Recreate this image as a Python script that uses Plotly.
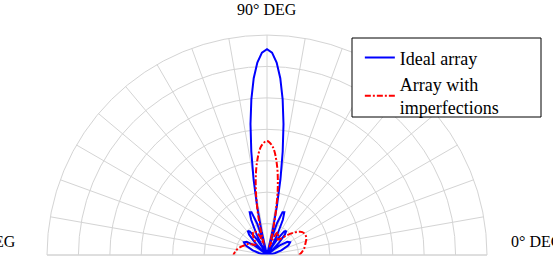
import plotly.graph_objects as go

# Ideal array pattern (angle in degrees, magnitude)
ideal_theta = [0, 8.11, 12.84, 18.19, 24.49, 28.96, 32.86, 36.87, 39.20, 41.41,
               43.53, 45.57, 48.70, 51.32, 53.84, 56.63, 58.33, 60.0,
               61.64, 63.26, 65.80, 67.98, 70.12, 72.54, 74.04, 75.52,
               77.00, 78.46, 79.92, 81.37, 82.82, 84.26, 85.70, 87.13, 88.57, 90.0]
ideal_r = [0, 0.10, 0.25, 0.48, 0.75, 0.84, 0.77, 0.51, 0.27, 0,
           0.28, 0.54, 0.86, 0.98, 0.93, 0.63, 0.34, 0,
           0.37, 0.74, 1.23, 1.47, 1.45, 1.06, 0.60, 0,
           0.74, 1.56, 2.44, 3.33, 4.20, 4.98, 5.64, 6.13, 6.44, 6.55]
# mirror half (pattern is symmetric about 90 deg)
ideal_theta_full = ideal_theta + [180 - t for t in reversed(ideal_theta[:-1])]
ideal_r_full = ideal_r + list(reversed(ideal_r[:-1]))

# Array with imperfections
imp_theta = [0, 4, 10, 17, 23, 28, 33, 37, 41, 45, 50, 55, 60, 64, 67, 70, 72.5,
             74.5, 76.5, 78.5, 81, 84, 87, 90, 93, 96, 99, 102, 104.5, 106.5,
             108.5, 111, 115, 120, 125, 130, 135, 140, 145, 150, 156, 162, 168, 174, 180]
imp_r = [1.02, 1.10, 1.20, 1.28, 1.36, 1.38, 1.34, 1.22, 1.06, 0.88, 0.68, 0.60, 0.70,
         0.80, 0.74, 0.52, 0.28, 0.35, 0.80, 1.40, 2.20, 2.95, 3.45, 3.63, 3.47, 3.00,
         2.30, 1.45, 0.75, 0.35, 0.45, 0.65, 0.80, 0.86, 0.78, 0.62, 0.50, 0.50, 0.60,
         0.70, 0.77, 0.86, 0.95, 1.02, 1.07]

names = ["Ideal array", "Array with<br>imperfections"]

fig = go.Figure()
fig.add_trace(go.Scatterpolar(theta=ideal_theta_full, r=ideal_r_full, mode="lines",
                              name=names[0], line=dict(color="#0000ff", width=2)))
fig.add_trace(go.Scatterpolar(theta=imp_theta, r=imp_r, mode="lines", name=names[1],
                              line=dict(color="#ff0000", width=2, dash="6px,2px,2px,2px",
                                        shape="spline")))

grid = "#d4d4d4"
# plot area: x 47..487 px, y 35..255 px
fig.update_layout(
    width=553, height=266,
    margin=dict(l=47, r=66, t=35, b=11),
    paper_bgcolor="white",
    font=dict(family="Liberation Serif", size=16, color="black"),
    polar=dict(
        domain=dict(x=[0, 1], y=[0, 1]),
        sector=[0, 180],
        bgcolor="white",
        radialaxis=dict(range=[0, 7], dtick=1, showticklabels=False, ticks="",
                        showline=False, gridcolor=grid, gridwidth=1),
        angularaxis=dict(dtick=10, showticklabels=False, ticks="", direction="counterclockwise",
                         rotation=0, showline=True, linecolor=grid, linewidth=1,
                         gridcolor=grid, gridwidth=1),
    ),
    showlegend=True,
    legend=dict(x=0.711, y=0.98, xanchor="left", yanchor="top",
                borderwidth=0, bgcolor="rgba(0,0,0,0)",
                font=dict(family="Liberation Serif", size=18), itemwidth=30),
    shapes=[
        dict(type="rect", xref="paper", yref="paper",
             x0=(352 - 47) / 440, x1=(541 - 47) / 440,
             y0=(255 - 117) / 220, y1=(255 - 38) / 220,
             line=dict(color="black", width=1), fillcolor="white", layer="above"),
    ],
    annotations=[
        dict(text="90° DEG", x=0.5, y=1.114, xref="paper", yref="paper",
             xanchor="center", yanchor="middle", showarrow=False),
        dict(text="0° DEG", x=1.05, y=0.06, xref="paper", yref="paper",
             xanchor="left", yanchor="middle", showarrow=False),
        dict(text="180° DEG", x=-0.066, y=0.06, xref="paper", yref="paper",
             xanchor="right", yanchor="middle", showarrow=False),
    ],
)

fig.write_html("out.html")
